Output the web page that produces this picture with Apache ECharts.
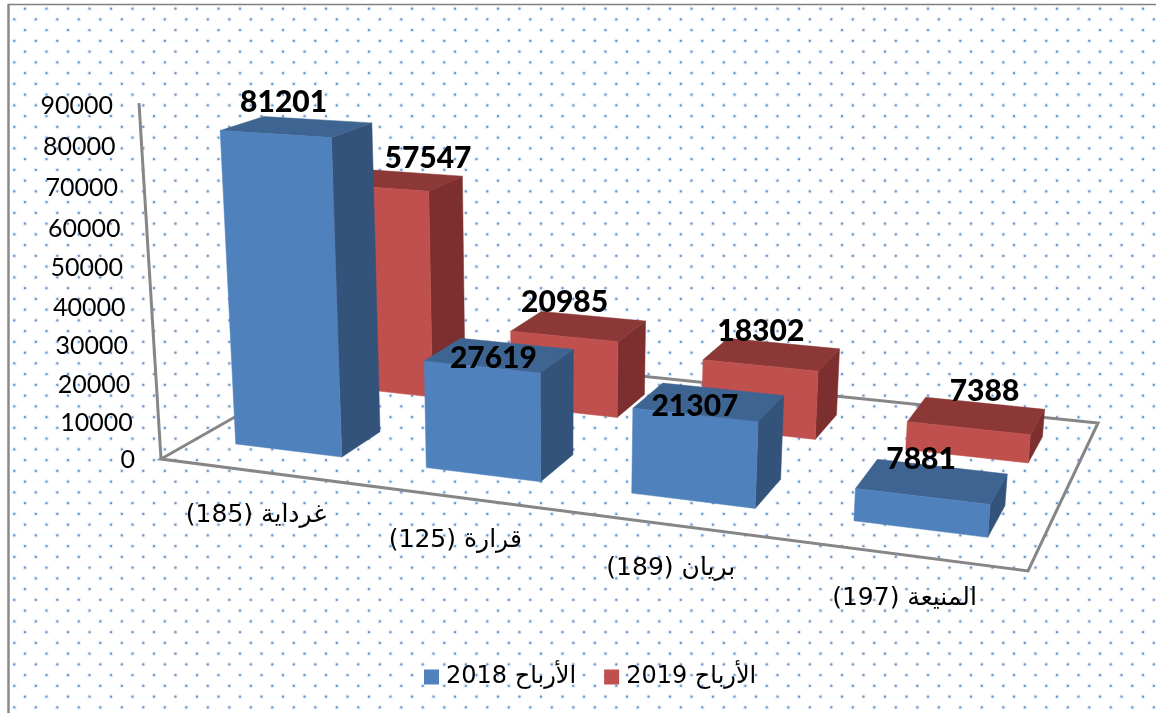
<!DOCTYPE html>
<html dir="rtl">
<head>
<meta charset="utf-8">
<style>
  html, body { margin: 0; padding: 0; background: #fff; }
  #main { width: 1156px; height: 713px; }
</style>
<script src="https://cdn.jsdelivr.net/npm/echarts@6/dist/echarts.min.js"></script>
</head>
<body>
<div id="main"></div>
<script>
// 数据
const categories = ['غرداية (185)', 'قرارة (125)', 'بريان (189)', 'المنيعة (197)']
const profits2018 = [81201, 27619, 21307, 7881]
const profits2019 = [57547, 20985, 18302, 7388]
const yTicks = [0, 10000, 20000, 30000, 40000, 50000, 60000, 70000, 80000, 90000]
const seriesNames = ['الأرباح 2018', 'الأرباح 2019']

// 数值标签相对柱顶中心的偏移, 原图是手动摆放的
const labelShift2018 = [[-13, -24], [-6, 3], [-14, 4], [-11, -22]]
const labelShift2019 = [[33, -22], [-14, -24], [-11, -23], [8, -24]]

// 透视投影: 地板四角 (161,459) (1028,571) (1098,423) (358,347), 再加竖直消失点
function project(u, v, h) {
  const w = 1 - 0.1479 * u + 0.1856 * v - 0.05396 * h
  return [
    (715 * u + 263.4 * v + 161 - 29.5 * h) / w,
    (27.5 * u - 47.6 * v + 459 - 361.5 * h) / w
  ]
}

// 点状背景
function dotTile() {
  const c = document.createElement('canvas')
  c.width = 43
  c.height = 43
  const ctx = c.getContext('2d')
  const rows = [[8.7, 3.5], [19.4, 14.3], [30.2, 3.5], [40.9, 14.3]]
  rows.forEach(r => {
    for (let k = 0; k < 2; k++) {
      const x = r[1] + k * 21.5
      ctx.fillStyle = 'rgba(79,129,189,0.13)'
      ctx.beginPath()
      ctx.arc(x, r[0], 2.4, 0, Math.PI * 2)
      ctx.fill()
      ctx.fillStyle = '#6494cf'
      ctx.beginPath()
      ctx.arc(x, r[0], 1.15, 0, Math.PI * 2)
      ctx.fill()
    }
  })
  return c
}

// 把网格坐标换算成 0-1 的比例
function unit(params, p) {
  const cs = params.coordSys
  return [(p[0] - cs.x) / cs.width, (cs.y + cs.height - p[1]) / cs.height]
}

function face(points, color) {
  return {
    type: 'polygon',
    shape: { points },
    style: { fill: color, stroke: color, lineWidth: 0.5 }
  }
}

// 创建三维柱子
function boxRenderer(v1, v2, colors, shifts) {
  return (params, api) => {
    const i = api.value(0)
    const val = api.value(1)
    const top = unit(params, api.coord([i, val]))
    const half = api.size([1, 0])[0] * 0.283 / params.coordSys.width
    const u1 = top[0] - half
    const u2 = top[0] + half
    const h = top[1]
    const center = project(top[0], (v1 + v2) / 2, h)
    return {
      type: 'group',
      children: [
        face([project(u2, v1, 0), project(u2, v2, 0), project(u2, v2, h), project(u2, v1, h)], colors[2]),
        face([project(u1, v1, h), project(u2, v1, h), project(u2, v2, h), project(u1, v2, h)], colors[1]),
        face([project(u1, v1, 0), project(u2, v1, 0), project(u2, v1, h), project(u1, v1, h)], colors[0]),
        {
          type: 'text',
          z2: 10,
          style: {
            text: String(val),
            x: center[0] + shifts[i][0],
            y: center[1] + shifts[i][1],
            align: 'center',
            verticalAlign: 'middle',
            fill: '#000',
            font: '900 30px Lato'
          }
        }
      ]
    }
  }
}

const myChart = echarts.init(document.getElementById('main'))

const option = {
  animation: false,
  backgroundColor: '#fff',
  graphic: [
    {
      type: 'rect',
      z: -1,
      silent: true,
      shape: { x: 8, y: 5, width: 1300, height: 900 },
      style: { fill: { image: dotTile(), repeat: 'repeat' } }
    },
    {
      type: 'line',
      z: -1,
      silent: true,
      shape: { x1: 8.5, y1: 4, x2: 8.5, y2: 713 },
      style: { stroke: '#8a8a8a', lineWidth: 2.5 }
    },
    {
      type: 'line',
      z: -1,
      silent: true,
      shape: { x1: 8, y1: 4.5, x2: 1156, y2: 4.5 },
      style: { stroke: '#808080', lineWidth: 1.5 }
    }
  ],
  grid: { left: 0, right: 0, top: 0, bottom: 0 },
  xAxis: { type: 'category', data: categories, show: false },
  yAxis: { type: 'value', min: 0, max: 90000, interval: 10000, show: false },
  legend: {
    left: 424,
    top: 665,
    padding: 0,
    itemWidth: 15,
    itemHeight: 15,
    itemGap: 28,
    icon: 'rect',
    data: seriesNames,
    textStyle: { fontFamily: 'DejaVu Sans', fontSize: 24, color: '#000', padding: [0, 0, 0, 2] }
  },
  series: [
    {
      // 地板边框和竖轴
      type: 'custom',
      name: 'axes',
      z: 1,
      silent: true,
      data: [[0, 0]],
      renderItem: () => ({
        type: 'group',
        children: [
          [[0, 1, 0], [0, 0, 0], [1, 0, 0], [1, 1, 0], [0, 1, 0]],
          [[0, 0, 0], [0, 0, 1]]
        ].map(line => ({
          type: 'polyline',
          shape: { points: line.map(p => project(p[0], p[1], p[2])) },
          style: { fill: 'none', stroke: '#868686', lineWidth: 3 }
        }))
      })
    },
    {
      // 纵轴刻度文字
      type: 'custom',
      name: 'ticks',
      z: 1,
      silent: true,
      data: yTicks.map(t => [0, t]),
      renderItem: (params, api) => {
        const h = unit(params, api.coord([0, api.value(1)]))[1]
        const p = project(0, 0, h)
        return {
          type: 'text',
          style: {
            text: String(api.value(1)),
            x: p[0] - 26,
            y: p[1] + 1 + h * 2,
            align: 'right',
            verticalAlign: 'middle',
            fill: '#000',
            font: '25px Lato'
          }
        }
      }
    },
    {
      // 类目文字
      type: 'custom',
      name: 'cats',
      z: 1,
      silent: true,
      data: categories.map((c, i) => [i, 0]),
      renderItem: (params, api) => {
        const i = api.value(0)
        const p = project(unit(params, api.coord([i, 0]))[0], 0, 0)
        return {
          type: 'text',
          style: {
            text: categories[i],
            x: p[0] + 1,
            y: p[1] + 44,
            align: 'center',
            verticalAlign: 'middle',
            fill: '#000',
            font: '25px "DejaVu Sans"'
          }
        }
      }
    },
    {
      type: 'custom',
      name: seriesNames[0],
      z: 4,
      itemStyle: { color: '#4F81BD' },
      data: profits2018.map((val, i) => [i, val]),
      renderItem: boxRenderer(0.155, 0.353, ['#4F81BD', '#3E6491', '#33537A'], labelShift2018)
    },
    {
      type: 'custom',
      name: seriesNames[1],
      z: 3,
      itemStyle: { color: '#C0504D' },
      data: profits2019.map((val, i) => [i, val]),
      renderItem: boxRenderer(0.65, 0.85, ['#C0504D', '#8B3837', '#7C2F2E'], labelShift2019)
    }
  ]
}

option && myChart.setOption(option)
window.addEventListener('resize', () => {
  myChart.resize()
})
</script>
</body>
</html>
